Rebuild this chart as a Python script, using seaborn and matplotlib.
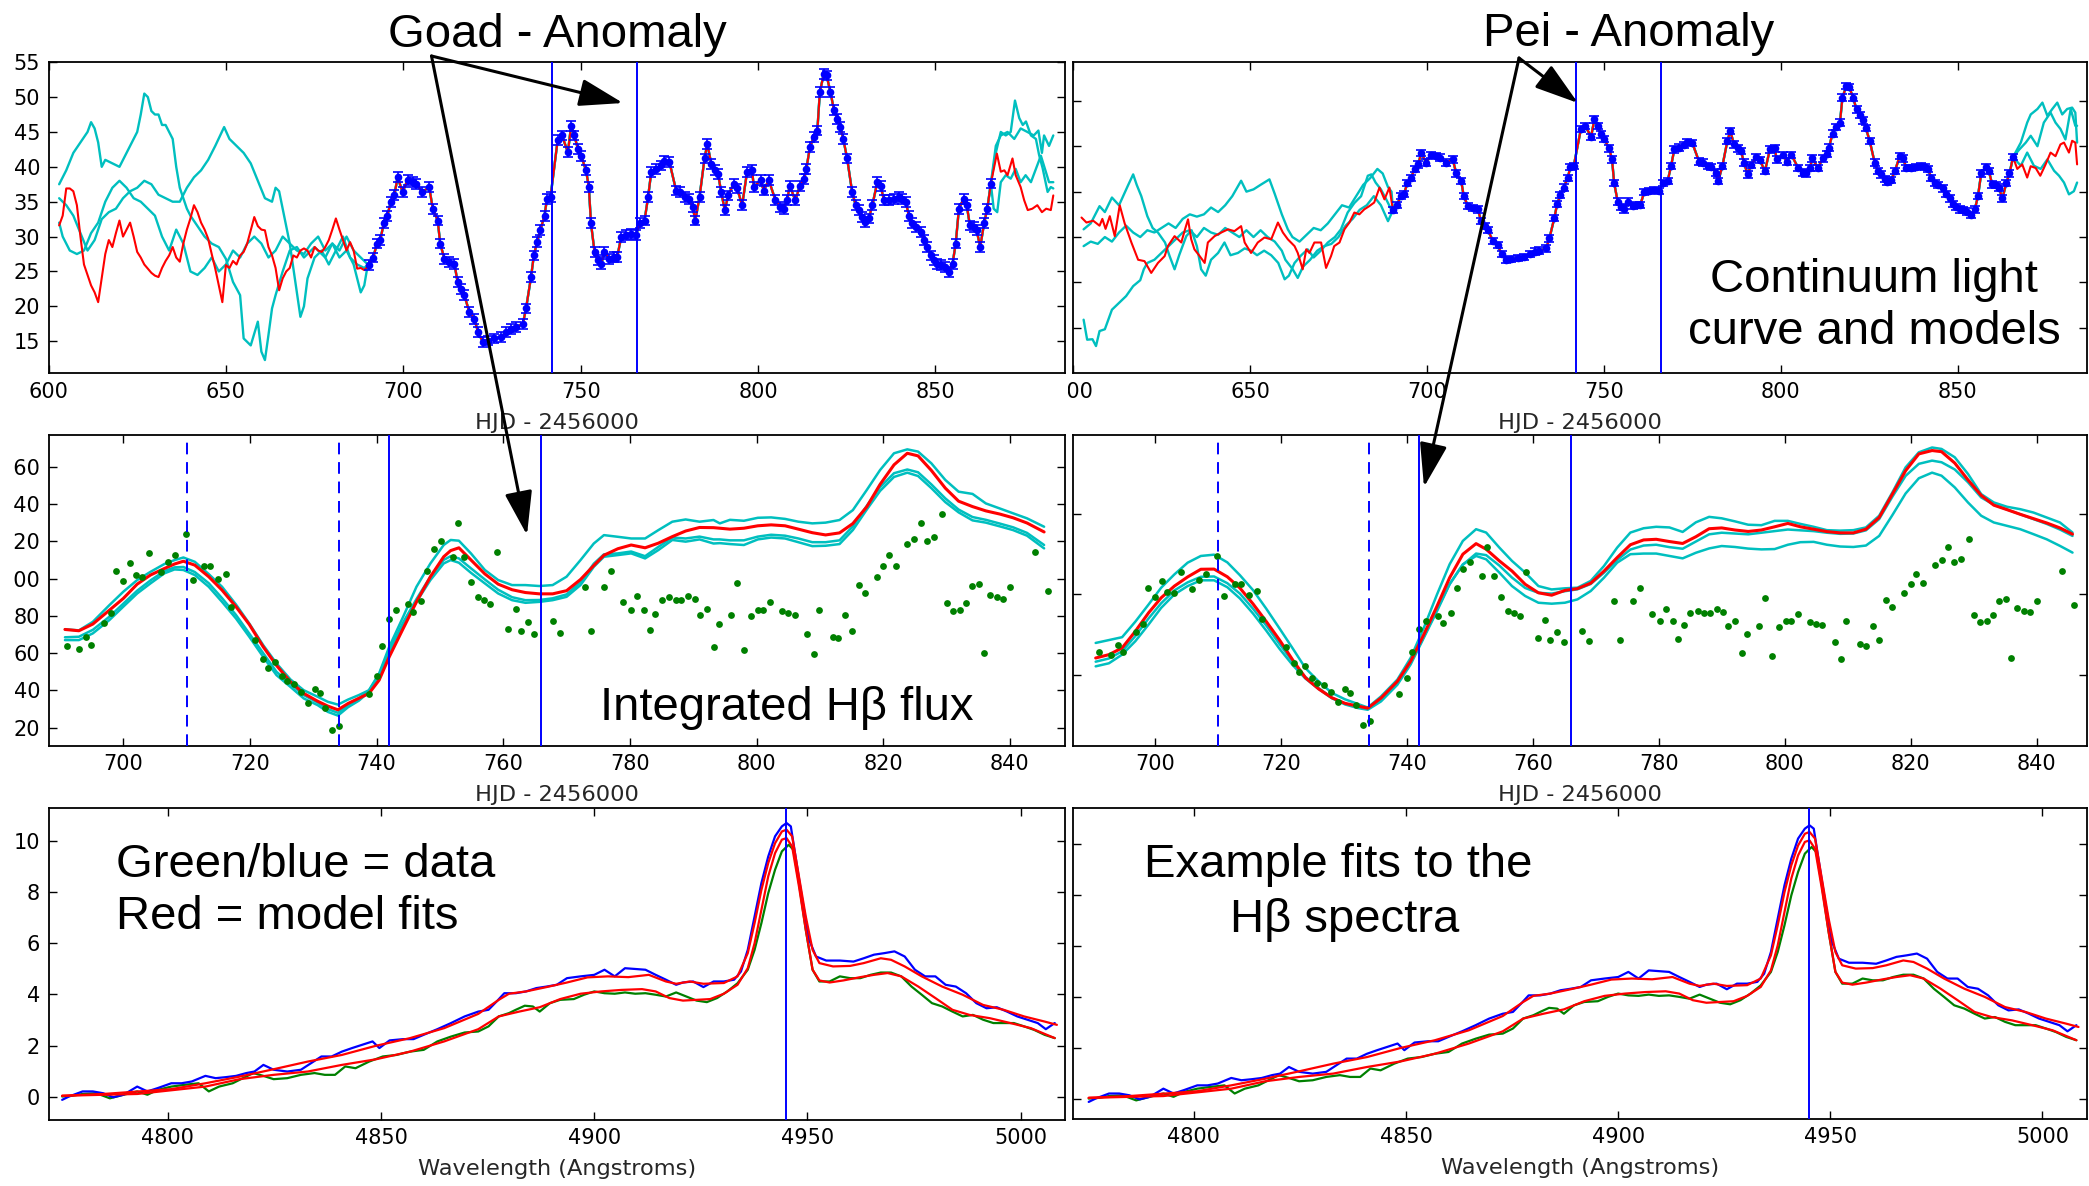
import numpy as np
import matplotlib
matplotlib.use("Agg")
import matplotlib.pyplot as plt
import seaborn as sns
from matplotlib.patches import FancyArrowPatch, ArrowStyle
from matplotlib.transforms import Bbox, TransformedBbox

W, H = 2089, 1186

# ---------------- continuum light curve (blue points) ----------------
LC_DAY = [690.4, 691.5, 692.6, 693.5, 694.5, 695.5, 696.5, 697.5, 698.4, 699.8,
          701.2, 702.6, 703.6, 705.4, 707.3, 708.3, 709.7, 710.4, 711.6, 713.0,
          714.4, 715.3, 716.3, 717.2, 718.6, 720.0, 721.1, 722.4, 723.8, 725.7,
          727.5, 729.0, 730.4, 731.8, 733.7, 734.6, 736.0, 736.8, 737.7, 738.6,
          739.8, 740.5, 741.5, 743.5, 744.7, 746.4, 747.3, 748.2, 749.2, 750.1,
          751.5, 752.3, 752.9, 753.9, 754.8, 755.8, 756.7, 758.1, 759.3, 760.3,
          761.4, 762.8, 764.2, 765.6, 766.6, 768.0, 769.0, 769.9, 771.3, 772.7,
          773.6, 775.0, 776.9, 777.9, 779.3, 780.4, 781.6, 782.3, 783.5, 784.9,
          785.7, 786.8, 787.8, 788.7, 789.6, 790.6, 791.6, 793.1, 794.1, 795.5,
          796.9, 798.3, 798.8, 800.7, 801.6, 803.0, 804.9, 806.3, 807.2, 808.2,
          808.9, 810.5, 811.8, 813.0, 813.6, 814.6, 815.7, 816.7, 817.4, 818.5,
          819.3, 820.4, 821.4, 822.3, 823.2, 824.0, 825.1, 826.5, 827.5, 828.4,
          829.4, 830.1, 831.2, 832.2, 833.6, 834.5, 835.5, 836.9, 838.3, 839.7,
          840.6, 841.6, 842.5, 843.5, 844.4, 845.8, 846.8, 847.7, 848.6, 849.6,
          850.5, 851.5, 852.6, 853.8, 854.8, 855.7, 856.6, 857.9, 858.8, 859.7,
          860.9, 861.6, 862.6, 863.7, 864.6, 865.6]
LC_FLUX = [25.9, 27.0, 29.0, 29.5, 31.9, 33.0, 35.0, 36.0, 38.5, 36.4,
           38.1, 37.8, 37.5, 36.4, 37.1, 34.0, 32.3, 29.0, 26.8, 26.4,
           26.1, 23.5, 22.5, 21.6, 19.2, 18.2, 16.3, 14.9, 15.1, 15.4,
           15.6, 16.3, 16.8, 17.0, 17.5, 19.7, 24.2, 27.3, 29.2, 30.9,
           33.0, 35.4, 35.7, 43.8, 44.5, 42.1, 45.9, 44.5, 42.6, 41.6,
           39.5, 37.1, 31.9, 27.8, 26.6, 26.1, 27.8, 26.8, 27.1, 27.1,
           29.9, 30.2, 30.4, 30.2, 31.9, 32.3, 35.7, 39.3, 39.7, 40.2,
           40.9, 40.7, 36.6, 36.4, 35.7, 35.4, 34.2, 32.3, 35.7, 41.2,
           43.3, 40.4, 39.5, 39.0, 36.4, 33.8, 35.9, 37.6, 36.9, 34.5,
           39.3, 39.5, 37.1, 38.1, 36.6, 38.1, 35.2, 34.2, 34.0, 35.2,
           37.3, 35.2, 37.3, 38.3, 39.7, 42.8, 44.3, 45.2, 50.7, 53.3,
           53.1, 50.7, 48.1, 46.9, 45.7, 44.0, 41.2, 36.4, 34.5, 33.8,
           32.8, 32.1, 32.6, 34.5, 37.8, 37.3, 35.2, 35.2, 35.4, 35.7,
           35.4, 35.0, 33.0, 31.9, 31.4, 30.7, 29.5, 28.5, 27.3, 26.6,
           26.1, 25.9, 25.6, 24.9, 26.1, 29.0, 34.0, 35.4, 34.5, 31.6,
           31.4, 30.9, 28.5, 31.9, 34.0, 37.6]
LC_ERR = 0.7

# ---- Goad model light curves: segments before / after the data window ----
GOAD_RED_PRE_DAY = list(range(603, 690))
GOAD_RED_PRE = [31.6, 33.0, 36.9, 36.9, 36.5, 34.5, 30.0, 26.0, 24.5, 23.0,
                22.0, 20.6, 24.0, 27.5, 29.5, 28.5, 30.5, 32.3, 30.0, 31.0,
                32.0, 30.0, 27.8, 27.0, 26.0, 25.4, 24.8, 24.4, 24.2, 25.5,
                26.5, 27.3, 28.5, 27.0, 26.4, 29.0, 31.0, 32.6, 34.5, 33.5,
                32.0, 31.0, 29.7, 27.5, 25.4, 23.0, 20.6, 25.9, 25.5, 26.5,
                26.0, 27.3, 27.8, 29.0, 30.9, 32.8, 31.5, 31.0, 30.9, 28.5,
                27.3, 25.5, 22.3, 24.0, 25.0, 25.5, 27.3, 27.0, 28.0, 28.3,
                28.0, 27.0, 28.5, 28.0, 27.8, 28.5, 29.5, 31.0, 32.6, 31.0,
                29.5, 28.0, 29.2, 28.0, 25.4, 25.5, 25.2]
GOAD_CYAN_A_DAY = [603, 605, 607, 609, 611, 612, 613, 614, 615, 616, 618, 620, 621, 623, 625,
                   626, 627, 628, 629, 630, 631, 632, 633, 634, 635, 636, 637, 638, 639, 640,
                   642, 644, 646, 648, 650, 652, 654, 655, 657, 659, 660, 661, 662, 663, 664,
                   666, 668, 670, 672, 675, 678, 680, 682, 684, 686, 688, 690]
GOAD_CYAN_A = [37.5, 39.5, 42.0, 43.5, 45.0, 46.4, 45.5, 43.5, 40.0, 41.0, 40.5, 40.0, 41.0, 43.0, 45.0,
               47.5, 50.5, 50.0, 48.0, 47.5, 47.5, 46.0, 46.0, 45.0, 44.0, 40.0, 37.0, 35.5, 34.0, 33.0,
               31.5, 30.0, 29.0, 28.5, 26.8, 23.5, 21.6, 15.4, 14.4, 17.8, 13.5, 12.3, 15.9, 19.7, 21.6,
               25.0, 28.0, 28.5, 27.0, 28.5, 27.0, 29.0, 28.0, 30.0, 28.0, 27.0, 26.0]
GOAD_CYAN_B_DAY = [603, 605, 607, 609, 611, 613, 615, 617, 619, 621, 623, 625, 627, 629, 631, 633,
                   635, 637, 639, 641, 643, 645, 647, 649.5, 651, 653, 655, 657, 659, 661, 663,
                   664, 665, 666, 668, 670, 671, 672, 673, 675, 677, 679, 681, 683, 685, 687, 689, 690]
GOAD_CYAN_B = [35.5, 34.5, 33.0, 30.5, 28.0, 29.5, 32.5, 33.5, 34.0, 35.5, 36.5, 37.0, 38.0, 37.5, 36.0, 35.5,
               35.0, 35.0, 37.0, 38.5, 39.5, 41.0, 43.0, 45.7, 44.0, 43.0, 42.0, 40.5, 38.0, 35.5, 35.0,
               37.0, 36.5, 34.0, 29.0, 22.0, 18.5, 20.0, 24.0, 27.0, 28.0, 26.0, 28.0, 30.0, 27.0, 26.0, 25.5, 26.0]
GOAD_CYAN_C_DAY = [603, 604, 606, 608, 610, 612, 614, 616, 618, 620, 622, 624, 626, 628, 630, 632,
                   634, 636, 638, 640, 642, 644, 646, 648, 650, 652, 654, 656, 658, 660, 662, 664,
                   666, 668, 670, 672, 674, 676, 678, 680, 682, 684, 686, 688, 689, 690]
GOAD_CYAN_C = [32.0, 30.0, 28.0, 27.5, 28.0, 30.5, 32.0, 35.0, 37.0, 38.0, 37.0, 35.5, 35.0, 34.0, 33.0, 30.0,
               28.0, 31.0, 29.0, 25.0, 24.5, 25.5, 27.0, 25.0, 26.0, 28.0, 27.0, 29.0, 30.0, 29.0, 27.0, 28.0,
               30.0, 29.0, 28.0, 27.5, 29.0, 30.0, 28.0, 29.0, 27.0, 28.0, 26.0, 22.0, 23.0, 26.0]
GOAD_RED_POST_DAY = [867.3, 868.4, 869.4, 870.3, 871.7, 872.6, 874.0, 875.0, 876.0, 877.3, 878.7, 880.0, 881.2, 882.5, 883.2]
GOAD_RED_POST = [41.9, 39.3, 39.5, 38.8, 41.2, 38.8, 37.1, 35.2, 33.8, 34.0, 34.5, 33.5, 34.0, 33.8, 35.9]
GOAD_CYAN_A_POST_DAY = [867.0, 868.4, 869.8, 871.2, 872.4, 873.6, 874.6, 875.5, 876.9, 878.3, 879.2, 880.2, 881.6, 882.5, 883.2]
GOAD_CYAN_A_POST = [42.0, 45.0, 44.5, 45.0, 49.5, 47.0, 46.0, 46.5, 44.5, 44.0, 41.7, 39.8, 36.4, 37.1, 36.9]
GOAD_CYAN_B_POST_DAY = [867.0, 868.4, 870.3, 872.2, 874.0, 875.9, 877.7, 879.0, 880.0, 880.6, 882.0, 883.2]
GOAD_CYAN_B_POST = [43.0, 44.5, 45.0, 44.0, 45.5, 45.0, 44.5, 45.2, 42.0, 44.5, 43.0, 44.5]
GOAD_CYAN_C_POST_DAY = [866.4, 867.4, 868.4, 869.8, 871.2, 872.6, 874.0, 875.4, 876.9, 878.3, 879.7, 881.1, 882.0, 883.2]
GOAD_CYAN_C_POST = [34.0, 33.5, 37.8, 38.8, 38.3, 39.7, 37.8, 38.8, 37.8, 39.7, 41.6, 39.3, 37.8, 37.8]

# ---- Pei model light curves ----
PEI_RED_PRE_DAY = [602.4, 603.8, 605.7, 607.5, 608.3, 609.2, 610.4, 611.8, 613.2, 614.6, 616.5, 618.4,
                   620.2, 622.1, 624.0, 625.9, 626.8, 628.7, 630.6, 631.5, 632.5, 633.4, 634.3, 635.8,
                   637.2, 638.1, 640.0, 641.9, 643.8, 645.6, 647.5, 648.5, 650.3, 652.2, 654.1, 656.0,
                   657.9, 659.3, 660.7, 662.6, 663.5, 664.9, 665.9, 666.8, 668.2, 670.1, 671.5, 672.9,
                   673.8, 675.3, 676.7, 678.1, 679.5, 680.9, 682.3, 683.7, 685.1, 686.6, 688.0, 689.4]
PEI_RED_PRE = [24.3, 23.2, 23.6, 22.5, 24.0, 21.8, 24.6, 20.2, 27.0, 23.0, 18.8, 15.0,
               14.7, 12.1, 14.3, 15.8, 18.0, 20.2, 18.8, 21.3, 23.9, 19.5, 17.3, 15.8,
               14.3, 18.8, 20.2, 21.0, 21.7, 21.3, 22.4, 18.8, 16.5, 18.8, 19.9, 19.5,
               23.2, 21.0, 19.5, 18.0, 16.5, 12.9, 17.3, 16.5, 18.8, 18.8, 13.2, 15.8,
               18.0, 18.8, 21.7, 23.2, 25.4, 25.0, 26.1, 26.8, 27.6, 30.9, 28.3, 30.9]
PEI_CYAN_A_DAY = [603, 604, 605.5, 606.5, 607.5, 609, 611, 613, 615, 617, 619, 620, 621, 623, 625,
                  627, 629, 631, 633, 635, 637, 639, 641, 643, 645, 647, 649, 651, 653, 655,
                  657, 659, 660, 662, 663.5, 665, 667, 669, 671, 673, 675, 677, 679, 681, 683,
                  685, 687, 689]
PEI_CYAN_A = [1.8, -2.6, -2.5, -4.0, -0.7, -0.3, 4.0, 5.5, 7.0, 9.2, 10.5, 12.9, 14.3, 15.0, 16.5,
              18.0, 19.5, 21.0, 21.5, 20.0, 22.0, 21.0, 20.5, 22.0, 21.0, 20.0, 21.5, 20.0, 21.5, 20.0,
              19.0, 17.0, 15.0, 13.0, 11.0, 13.5, 15.0, 17.0, 18.0, 18.5, 20.0, 22.5, 24.0, 26.0, 27.0,
              29.0, 27.0, 23.5]
PEI_CYAN_B_DAY = [603, 605, 607.5, 609, 611, 613, 615.5, 617, 618, 619.3, 621, 622.5, 624, 626, 627.3,
                  628.7, 630, 632, 633.5, 635, 636.2, 637.5, 639, 641, 642.8, 644.5, 646.6, 648.5, 650.3,
                  652, 654, 656, 658, 659.8, 661, 662.6, 664.5, 666.3, 668, 670, 672, 674, 675.7, 677.6,
                  679.5, 681.4, 683.3, 684.3, 685.5, 687, 688.5, 689.9]
PEI_CYAN_B = [21.7, 23.0, 26.8, 25.5, 28.7, 27.0, 31.3, 33.8, 31.5, 29.0, 24.6, 22.0, 21.0, 18.8, 15.8,
              12.9, 16.0, 20.2, 21.5, 18.0, 12.9, 11.5, 15.0, 16.5, 18.8, 16.0, 16.5, 17.5, 17.0,
              16.0, 17.0, 16.0, 14.3, 10.7, 11.5, 14.3, 16.0, 17.3, 15.5, 17.0, 18.8, 20.0, 21.7, 25.4,
              27.5, 29.0, 33.5, 33.8, 32.0, 30.5, 28.3, 26.1]
PEI_CYAN_C_DAY = [603, 605, 607, 609, 611, 613, 615, 617, 619, 621, 623, 625, 627, 629, 631, 633, 635,
                  637, 639, 641, 643, 645, 647.5, 649, 651, 653, 655.5, 657, 659, 660.7, 662, 664, 666,
                  668, 670, 672, 674, 676, 678, 680, 682, 684, 686, 687.5, 689, 690]
PEI_CYAN_C = [18.0, 19.0, 18.5, 20.0, 19.0, 21.0, 22.5, 21.0, 20.0, 21.5, 21.0, 22.0, 23.0, 22.0, 24.0, 25.0, 24.5,
              25.0, 26.5, 25.5, 27.0, 29.0, 32.4, 30.0, 30.5, 31.5, 32.7, 29.5, 25.0, 21.7, 20.0, 19.0, 20.5,
              22.0, 21.5, 23.0, 25.0, 27.0, 26.5, 29.0, 31.5, 33.0, 35.0, 34.0, 31.0, 30.0]
PEI_RED_POST_DAY = [866.8, 868.2, 869.6, 870.6, 872.0, 873.3, 874.8, 876.2, 877.6, 879.0, 880.0, 881.4, 882.3, 883.2, 883.7]
PEI_RED_POST = [35.0, 36.0, 33.1, 35.6, 35.2, 33.5, 36.0, 38.6, 37.8, 40.4, 40.8, 38.6, 41.2, 40.8, 36.0]
PEI_CYAN_A_POST_DAY = [867.8, 869.6, 870.6, 872.5, 873.9, 875.3, 876.7, 878.1, 879.5, 880.9, 882.3, 883.2, 883.7]
PEI_CYAN_A_POST = [40.8, 45.2, 47.0, 48.2, 49.6, 46.7, 48.2, 49.6, 47.0, 48.2, 48.5, 47.4, 40.8]
PEI_CYAN_B_POST_DAY = [867.4, 869.2, 870.6, 872.5, 874.3, 876.2, 877.6, 879.0, 880.4, 881.9, 883.2, 883.7]
PEI_CYAN_B_POST = [39.3, 40.8, 42.3, 40.0, 45.2, 47.4, 45.2, 43.8, 41.5, 48.2, 44.5, 44.5]
PEI_CYAN_C_POST_DAY = [867.8, 869.6, 871.5, 873.4, 875.3, 877.2, 878.6, 880.0, 881.4, 882.8, 883.7]
PEI_CYAN_C_POST = [35.7, 38.6, 35.7, 35.0, 37.1, 34.6, 33.5, 32.0, 29.4, 30.1, 32.0]

# ---------------- integrated H-beta flux (green points) ----------------
HB_DAY = [691.1, 693.0, 694.1, 694.9, 697.0, 698.1, 698.9, 700.0, 701.1, 702.0,
          703.0, 704.1, 705.9, 707.0, 708.1, 709.9, 711.0, 712.7, 713.7, 714.9,
          716.2, 717.0, 720.8, 722.1, 722.9, 723.9, 725.0, 725.8, 726.9, 728.0,
          729.1, 730.2, 731.0, 731.9, 733.0, 734.1, 738.8, 740.1, 740.9, 741.9,
          743.1, 745.0, 745.8, 747.0, 748.0, 749.0, 750.1, 752.0, 752.8, 753.8,
          754.9, 756.0, 757.0, 757.9, 759.0, 760.8, 762.0, 762.8, 763.9, 764.9,
          767.8, 768.9, 772.9, 773.9, 775.9, 777.0, 778.9, 780.2, 781.1, 782.2,
          783.1, 784.0, 785.0, 786.2, 787.2, 788.1, 789.2, 790.2, 791.0, 792.1,
          793.2, 794.0, 796.0, 796.9, 798.0, 799.1, 800.2, 801.0, 802.1, 804.0,
          805.0, 806.0, 808.0, 809.0, 809.8, 812.0, 812.9, 814.0, 815.0, 816.1,
          817.1, 819.0, 820.0, 820.9, 822.0, 823.8, 824.9, 825.9, 826.9, 828.0,
          829.2, 830.1, 831.0, 832.1, 833.0, 834.0, 835.1, 835.9, 836.9, 838.0,
          838.9, 840.0, 844.0, 846.0]
HB_FLUX = [63.8, 62.0, 68.4, 64.3, 76.3, 81.6, 104.2, 98.5, 108.5, 101.7,
           101.0, 113.8, 103.5, 108.7, 112.9, 123.7, 99.2, 106.7, 106.7, 99.5,
           102.4, 84.9, 67.3, 57.1, 51.8, 55.3, 47.8, 45.0, 43.7, 39.2,
           33.0, 41.0, 38.4, 30.8, 18.7, 20.8, 38.0, 47.6, 63.8, 78.1,
           83.1, 86.3, 82.2, 88.1, 104.2, 115.8, 120.3, 111.3, 129.6, 111.3,
           98.3, 89.9, 88.4, 86.3, 114.2, 72.9, 83.8, 71.7, 76.6, 70.0,
           77.4, 71.0, 95.6, 71.8, 95.6, 104.2, 87.5, 83.1, 90.6, 83.4,
           72.3, 80.9, 88.4, 89.9, 88.4, 88.4, 90.6, 88.9, 80.4, 83.6,
           63.4, 75.5, 80.4, 97.7, 61.6, 79.8, 83.4, 83.4, 87.5, 82.5,
           81.3, 80.6, 70.2, 59.5, 83.3, 68.8, 67.9, 80.4, 71.8, 96.5,
           92.0, 100.6, 106.7, 112.8, 107.0, 118.5, 121.2, 129.6, 120.3, 122.1,
           134.6, 87.0, 82.5, 83.4, 87.0, 96.1, 97.0, 60.2, 91.3, 89.9,
           88.8, 95.6, 114.4, 93.3]

# Goad H-beta models
HB_GOAD_DAY = [690.8, 693.0, 695.2, 697.8, 700.0, 702.2, 704.3, 706.5, 708.1, 709.5,
               711.3, 713.5, 715.6, 717.8, 719.9, 722.1, 724.2, 726.4, 728.5, 730.7,
               732.3, 733.9, 735.5, 737.2, 738.8, 740.4, 742.0, 744.2, 746.3, 748.5,
               750.6, 751.7, 753.0, 754.9, 757.1, 759.2, 761.4, 763.5, 765.7, 767.8,
               770.0, 772.2, 774.3, 775.9, 778.1, 780.2, 782.4, 784.5, 786.7, 788.8,
               791.0, 793.2, 794.2, 795.8, 798.0, 800.2, 802.3, 804.5, 806.6, 808.8,
               810.9, 813.1, 815.2, 817.4, 819.5, 821.7, 823.8, 825.5, 827.6, 829.8,
               831.9, 834.1, 836.2, 838.4, 840.5, 842.7, 845.4]
HB_GOAD_RED = [72.7, 72.0, 75.6, 83.0, 89.3, 97.0, 101.9, 105.4, 107.8, 109.3,
               107.2, 101.0, 93.8, 84.9, 75.4, 63.4, 53.4, 44.6, 38.4, 34.2,
               31.6, 29.6, 33.0, 35.8, 38.4, 45.5, 58.0, 73.2, 87.5, 101.0,
               111.7, 115.0, 116.5, 110.0, 102.5, 97.0, 94.0, 92.5, 91.8, 91.8,
               93.5, 99.5, 107.0, 112.5, 116.0, 118.0, 116.5, 119.0, 122.5, 125.5,
               127.4, 127.3, 127.0, 126.5, 127.0, 128.3, 128.8, 128.3, 126.5, 124.6,
               123.4, 124.5, 129.5, 138.5, 150.5, 161.0, 167.2, 165.8, 158.0, 148.5,
               141.5, 138.6, 136.3, 134.6, 132.6, 129.8, 125.0]
HB_GOAD_CYAN_A = [72.8, 72.2, 76.8, 85.7, 92.9, 99.2, 103.6, 107.8, 109.9, 111.3,
                  109.0, 102.4, 95.6, 86.1, 75.9, 64.3, 54.5, 45.9, 40.1, 36.6,
                  33.9, 32.4, 35.1, 37.5, 40.1, 49.1, 63.4, 79.5, 95.6, 108.1,
                  118.0, 120.7, 120.3, 113.5, 104.6, 99.2, 96.5, 96.5, 96.0, 96.5,
                  101.0, 109.9, 118.8, 123.3, 122.4, 121.5, 121.5, 126.0, 130.5, 131.7,
                  130.5, 131.4, 129.6, 131.5, 131.0, 132.6, 132.8, 132.0, 130.5, 129.6,
                  130.0, 131.4, 136.7, 147.5, 158.2, 167.2, 169.3, 168.1, 161.8, 152.9,
                  146.6, 145.4, 140.3, 137.6, 135.0, 132.3, 127.8]
HB_GOAD_CYAN_B = [67.0, 67.0, 70.6, 77.7, 84.9, 92.0, 97.4, 102.8, 104.9, 104.6,
                  101.9, 95.6, 87.5, 78.6, 68.8, 58.0, 48.2, 41.9, 35.7, 32.1,
                  28.5, 26.5, 31.0, 34.5, 39.2, 47.3, 59.8, 75.0, 87.5, 99.2,
                  108.1, 109.9, 108.5, 103.1, 97.4, 92.0, 88.4, 87.0, 87.5, 88.4,
                  90.2, 96.5, 106.3, 111.7, 112.6, 113.5, 110.8, 115.3, 120.7, 119.8,
                  121.0, 118.8, 119.0, 118.5, 118.0, 121.0, 122.0, 121.5, 119.5, 117.4,
                  117.6, 118.5, 126.0, 137.0, 147.0, 154.5, 156.8, 155.0, 148.5, 141.0,
                  135.5, 131.2, 130.0, 128.0, 126.0, 123.0, 116.2]
HB_GOAD_CYAN_C = [68.5, 68.8, 72.5, 79.5, 86.5, 93.5, 99.0, 104.0, 106.0, 106.2,
                  103.5, 97.5, 89.5, 80.5, 70.5, 60.0, 50.0, 43.5, 37.5, 33.5,
                  30.0, 28.0, 32.0, 35.5, 40.0, 48.5, 61.5, 76.5, 89.0, 101.0,
                  110.0, 112.0, 110.8, 105.5, 99.5, 94.0, 90.0, 88.4, 88.5, 89.4,
                  91.5, 98.0, 108.0, 113.0, 113.5, 114.5, 112.0, 117.0, 122.0, 121.5,
                  122.5, 121.0, 121.0, 120.5, 120.5, 122.5, 123.5, 123.0, 121.5, 119.5,
                  119.5, 120.5, 128.0, 139.0, 149.0, 156.5, 158.5, 157.0, 150.5, 143.0,
                  137.0, 133.0, 131.5, 129.5, 127.5, 124.5, 118.0]

# Pei H-beta models
HB_PEI_DAY = [690.6, 692.7, 694.8, 696.9, 699.0, 701.0, 703.1, 705.2, 707.3, 709.4,
              711.5, 713.5, 715.6, 717.7, 719.8, 721.9, 723.9, 726.0, 728.1, 730.2,
              732.3, 733.8, 735.9, 738.5, 740.6, 742.7, 744.8, 746.8, 748.9, 751.0,
              752.6, 754.7, 756.7, 758.8, 760.9, 763.0, 765.1, 767.1, 769.2, 771.3,
              773.4, 775.5, 777.6, 779.6, 781.7, 783.8, 785.9, 788.0, 790.0, 792.1,
              794.2, 796.3, 798.4, 800.5, 802.5, 804.6, 806.7, 808.8, 810.9, 812.9,
              815.0, 817.1, 819.2, 821.3, 823.4, 824.9, 827.0, 829.1, 831.2, 833.2,
              835.3, 837.4, 839.5, 841.6, 843.7, 845.7]
HB_PEI_RED = [60.3, 62.4, 66.6, 77.0, 88.5, 97.9, 105.2, 110.9, 115.7, 115.8,
              111.0, 104.0, 94.0, 83.0, 71.5, 59.0, 48.0, 41.0, 35.5, 32.0,
              30.2, 29.0, 35.3, 45.7, 58.2, 74.9, 92.7, 110.4, 125.1, 131.7,
              128.2, 120.9, 114.6, 106.3, 101.0, 99.5, 102.5, 103.6, 107.0, 114.5,
              123.0, 131.0, 134.0, 134.4, 133.0, 131.8, 136.0, 141.0, 141.5, 140.2,
              139.3, 140.2, 142.2, 144.3, 142.2, 140.7, 139.2, 138.4, 138.4, 140.7,
              148.0, 162.6, 177.2, 187.7, 189.8, 189.1, 182.0, 171.5, 161.8, 155.7,
              152.9, 150.0, 147.3, 144.6, 141.5, 137.6]
HB_PEI_CYAN_A = [69.7, 71.5, 73.3, 83.0, 93.7, 104.2, 112.5, 119.8, 124.0, 124.8,
                 120.0, 112.0, 102.6, 91.0, 78.7, 66.2, 54.0, 45.7, 38.5, 34.5,
                 31.5, 29.4, 36.3, 46.8, 60.3, 79.1, 100.0, 118.8, 133.4, 140.7,
                 138.6, 129.2, 120.9, 113.6, 105.2, 103.1, 103.8, 104.2, 108.4, 117.7,
                 129.2, 138.6, 141.3, 142.2, 141.8, 139.0, 145.0, 148.4, 147.5, 145.6,
                 143.5, 143.2, 145.9, 145.9, 144.0, 142.2, 140.1, 139.8, 140.1, 141.8,
                 149.1, 163.7, 179.3, 188.7, 191.7, 190.8, 185.6, 175.2, 162.6, 157.4,
                 154.7, 153.2, 151.1, 148.0, 144.9, 138.6]
HB_PEI_CYAN_B = [55.1, 57.0, 62.4, 70.8, 81.2, 91.6, 100.0, 105.2, 108.8, 108.8,
                 104.5, 97.5, 88.0, 77.3, 66.0, 55.8, 47.5, 41.0, 35.2, 31.3,
                 29.0, 28.0, 33.2, 43.6, 56.2, 72.9, 89.6, 106.3, 118.8, 124.0,
                 121.9, 113.6, 105.2, 99.0, 94.8, 94.2, 94.8, 96.9, 102.1, 110.4,
                 119.8, 125.1, 125.5, 125.5, 124.0, 122.5, 126.0, 128.7, 130.2, 129.6,
                 128.6, 128.1, 128.3, 131.0, 132.6, 132.8, 131.0, 129.9, 129.6, 130.5,
                 136.5, 149.5, 163.0, 172.5, 176.0, 174.1, 166.8, 157.4, 149.1, 144.9,
                 142.8, 140.7, 137.6, 134.4, 130.3, 126.1]
HB_PEI_CYAN_C = [58.0, 60.0, 64.5, 74.0, 85.0, 94.5, 102.5, 107.5, 111.0, 111.2,
                 107.0, 100.5, 91.0, 80.5, 69.0, 58.0, 48.5, 41.5, 35.5, 31.8,
                 29.8, 28.5, 34.0, 44.5, 57.0, 73.5, 90.5, 106.5, 118.5, 125.5,
                 124.5, 118.0, 110.5, 104.0, 101.0, 100.5, 102.0, 103.2, 106.5, 113.5,
                 121.5, 128.0, 130.5, 131.0, 129.5, 128.5, 133.0, 137.5, 138.5, 138.0,
                 137.5, 138.5, 139.5, 140.5, 140.0, 139.5, 138.5, 137.8, 138.0, 140.0,
                 147.0, 161.0, 174.0, 181.5, 183.5, 182.5, 178.0, 170.0, 160.5, 156.0,
                 153.0, 150.0, 147.0, 144.0, 140.5, 136.5]

# ---------------- H-beta spectra ----------------
SPEC_BLUE_WL = [4775.2, 4776.8, 4780.0, 4782.4, 4784.8, 4787.2, 4789.6, 4792.8, 4795.2, 4797.6,
                4800.8, 4803.2, 4805.6, 4808.8, 4811.2, 4813.6, 4816.0, 4818.4, 4820.3, 4822.4,
                4824.8, 4828.0, 4831.2, 4833.6, 4836.0, 4838.4, 4840.8, 4843.2, 4845.6, 4848.0,
                4849.6, 4852.0, 4855.2, 4857.6, 4860.0, 4863.2, 4866.4, 4869.6, 4872.8, 4875.2,
                4877.3, 4878.9, 4881.6, 4884.0, 4886.4, 4888.8, 4891.2, 4893.6, 4896.8, 4900.0,
                4902.4, 4904.8, 4907.2, 4909.6, 4912.0, 4914.4, 4916.8, 4919.2, 4920.8, 4923.2,
                4925.6, 4928.0, 4930.4, 4932.8, 4934.4, 4936.0, 4937.6, 4939.2, 4940.8, 4942.4,
                4944.0, 4945.1, 4946.1, 4947.2, 4948.8, 4950.4, 4952.0, 4954.4, 4957.6, 4960.8,
                4963.2, 4965.6, 4968.0, 4970.4, 4972.8, 4975.2, 4977.6, 4980.0, 4982.4, 4984.8,
                4987.2, 4989.6, 4992.0, 4994.4, 4996.8, 4999.2, 5001.6, 5004.0, 5005.9, 5008.0]
SPEC_BLUE = [-0.13, 0.0, 0.2, 0.2, 0.13, -0.03, 0.07, 0.39, 0.2, 0.33,
             0.52, 0.52, 0.59, 0.81, 0.72, 0.76, 0.81, 0.92, 0.98, 1.24,
             1.05, 0.98, 1.05, 1.31, 1.57, 1.57, 1.76, 1.9, 2.03, 2.16,
             1.9, 2.2, 2.25, 2.25, 2.42, 2.64, 2.88, 3.14, 3.33, 3.4,
             3.76, 4.05, 4.05, 4.12, 4.25, 4.31, 4.38, 4.64, 4.71, 4.77,
             4.97, 4.71, 5.03, 5.0, 4.97, 4.77, 4.58, 4.38, 4.47, 4.51,
             4.29, 4.51, 4.51, 4.58, 4.9, 5.75, 7.06, 8.37, 9.41, 10.2,
             10.59, 10.72, 10.59, 9.41, 7.71, 6.14, 5.49, 5.33, 5.33, 5.29,
             5.42, 5.56, 5.62, 5.69, 5.49, 4.97, 4.71, 4.71, 4.38, 4.31,
             4.05, 3.66, 3.46, 3.5, 3.33, 3.14, 3.01, 2.88, 2.64, 2.88]
SPEC_GREEN_WL = [4775.2, 4777.6, 4780.0, 4783.2, 4786.4, 4789.6, 4792.8, 4795.2, 4797.6, 4800.8,
                 4804.0, 4807.2, 4809.6, 4812.0, 4815.2, 4817.6, 4820.0, 4822.4, 4824.8, 4828.0,
                 4831.2, 4834.4, 4836.8, 4839.2, 4841.6, 4844.0, 4847.2, 4850.4, 4853.6, 4856.8,
                 4860.0, 4863.2, 4866.4, 4869.6, 4872.8, 4875.2, 4877.6, 4880.0, 4881.6, 4883.7,
                 4885.6, 4887.2, 4889.6, 4892.0, 4895.2, 4897.6, 4900.0, 4902.4, 4904.8, 4907.2,
                 4909.6, 4912.0, 4914.4, 4916.8, 4919.2, 4921.6, 4924.0, 4926.4, 4928.8, 4931.2,
                 4933.6, 4936.0, 4937.6, 4939.2, 4940.8, 4942.4, 4944.0, 4945.6, 4946.7, 4948.0,
                 4949.6, 4951.2, 4952.8, 4955.2, 4957.6, 4960.0, 4962.4, 4964.8, 4967.2, 4969.6,
                 4972.0, 4974.4, 4976.8, 4979.2, 4981.6, 4984.0, 4986.4, 4988.8, 4991.2, 4993.6,
                 4996.0, 4998.4, 5000.8, 5003.2, 5005.6, 5008.0]
SPEC_GREEN = [0.0, 0.03, 0.1, 0.13, -0.07, 0.07, 0.2, 0.07, 0.26, 0.39,
              0.46, 0.52, 0.2, 0.39, 0.52, 0.72, 0.92, 0.81, 0.68, 0.72,
              0.85, 0.92, 0.85, 0.85, 1.18, 1.11, 1.37, 1.57, 1.63, 1.76,
              1.83, 2.16, 2.35, 2.51, 2.55, 2.75, 3.14, 3.27, 3.4, 3.56,
              3.53, 3.33, 3.66, 3.79, 3.82, 3.99, 4.12, 4.05, 4.03, 4.08,
              4.03, 4.05, 3.99, 3.92, 4.08, 3.92, 3.76, 3.7, 3.86, 4.12,
              4.44, 4.97, 5.75, 6.8, 7.97, 8.89, 9.61, 9.87, 9.67, 8.37,
              6.54, 4.97, 4.51, 4.51, 4.71, 4.64, 4.64, 4.77, 4.86, 4.86,
              4.71, 4.31, 3.99, 3.66, 3.53, 3.33, 3.14, 3.2, 3.01, 2.88,
              2.88, 2.88, 2.75, 2.61, 2.42, 2.29]
FIT_UPPER_WL = [4775.2, 4784.8, 4800.8, 4808.8, 4816.8, 4824.8, 4832.8, 4840.8, 4848.8, 4856.8,
                4864.8, 4872.8, 4877.6, 4880.0, 4884.0, 4888.8, 4893.6, 4898.4, 4903.2, 4908.0,
                4912.8, 4916.8, 4919.2, 4922.4, 4925.6, 4930.4, 4933.6, 4936.0, 4937.6, 4939.2,
                4940.8, 4942.4, 4944.0, 4945.1, 4946.4, 4948.0, 4949.6, 4951.2, 4952.8, 4956.0,
                4960.0, 4963.2, 4967.2, 4969.6, 4972.8, 4976.8, 4981.6, 4986.4, 4991.2, 4996.0,
                5000.8, 5005.6, 5008.5]
FIT_UPPER = [0.03, 0.1, 0.29, 0.52, 0.78, 1.07, 1.37, 1.63, 1.99, 2.29,
             2.68, 3.24, 3.79, 4.03, 4.12, 4.29, 4.47, 4.67, 4.71, 4.68,
             4.77, 4.51, 4.42, 4.51, 4.42, 4.45, 4.71, 5.62, 6.8, 8.1,
             9.15, 9.93, 10.39, 10.46, 10.2, 8.63, 7.06, 5.75, 5.23, 5.1,
             5.12, 5.23, 5.42, 5.36, 5.1, 4.71, 4.31, 3.99, 3.59, 3.4,
             3.14, 2.94, 2.81]
FIT_LOWER_WL = [4775.2, 4792.8, 4808.8, 4816.8, 4824.8, 4832.8, 4840.8, 4848.8, 4856.8, 4864.8,
                4872.8, 4877.6, 4882.4, 4887.2, 4892.0, 4896.8, 4901.6, 4906.4, 4911.2, 4914.4,
                4917.6, 4920.8, 4924.0, 4927.2, 4930.4, 4933.6, 4936.0, 4937.6, 4939.2, 4940.8,
                4942.4, 4944.0, 4945.1, 4946.4, 4948.0, 4949.6, 4951.2, 4952.8, 4955.2, 4958.4,
                4962.4, 4965.6, 4968.8, 4972.0, 4976.0, 4980.0, 4984.0, 4988.0, 4992.8, 4997.6,
                5002.4, 5008.0]
FIT_LOWER = [0.03, 0.1, 0.39, 0.68, 0.85, 0.98, 1.24, 1.46, 1.76, 2.16,
             2.64, 3.14, 3.33, 3.5, 3.82, 4.03, 4.12, 4.18, 4.21, 4.12,
             3.86, 3.76, 3.79, 3.82, 4.03, 4.38, 5.03, 6.01, 7.32, 8.63,
             9.54, 10.07, 10.13, 9.8, 8.24, 6.54, 4.97, 4.55, 4.47, 4.55,
             4.68, 4.77, 4.84, 4.71, 4.31, 3.86, 3.4, 3.2, 3.07, 2.88,
             2.68, 2.29]

ANOMALY_SOLID = [742, 766]
ANOMALY_DASHED = [710, 734]
LINE_CENTER = 4945

CYAN, RED, BLUE, GREEN = "#00bfbf", "#ff0000", "#0000ff", "#008000"

# ---------------- styling ----------------
sns.set_theme(style="ticks")
plt.rcParams.update({
    "axes.edgecolor": "black",
    "axes.linewidth": 1.3,
    "xtick.direction": "in",
    "ytick.direction": "in",
    "xtick.top": True,
    "ytick.right": True,
    "xtick.color": "black",
    "ytick.color": "black",
    "axes.facecolor": "white",
    "figure.facecolor": "white",
})
plt.rcParams["font.family"] = ["DejaVu Sans"]
ANN_FONT = ["Liberation Sans", "DejaVu Sans"]
XLABEL_SIZE = 16.2

fig = plt.figure(figsize=(W / 100, H / 100), dpi=100)


def px_axes(x0, y0, x1, y1):
    return fig.add_axes([x0 / W, 1 - y1 / H, (x1 - x0) / W, (y1 - y0) / H])


def style(ax):
    ax.tick_params(axis="both", which="major", direction="in", length=5.5, width=1.0,
                   top=True, right=True, labelsize=15, pad=6)
    for s in ax.spines.values():
        s.set_visible(True)
        s.set_linewidth(1.3)
        s.set_color("black")


def draw_line(ax, x, y, color, lw, z):
    sns.lineplot(x=np.asarray(x, float), y=np.asarray(y, float), ax=ax, color=color,
                 linewidth=lw, estimator=None, sort=False, zorder=z, legend=False)


def draw_lightcurve(ax, red_pre, cyan_pre, red_post, cyan_post, ylim, yticks):
    for (pdd, pvv), (qdd, qvv) in zip(cyan_pre, cyan_post):
        draw_line(ax, list(pdd) + LC_DAY + list(qdd), list(pvv) + LC_FLUX + list(qvv), CYAN, 1.7, 2)
    draw_line(ax, list(red_pre[0]) + LC_DAY + list(red_post[0]),
              list(red_pre[1]) + LC_FLUX + list(red_post[1]), RED, 1.5, 3)
    ax.errorbar(LC_DAY, LC_FLUX, yerr=LC_ERR, fmt="o", color=BLUE, ms=4.5, mec=BLUE,
                elinewidth=1.2, capsize=3.5, capthick=1.2, zorder=4)
    for xv in ANOMALY_SOLID:
        ax.axvline(xv, color=BLUE, lw=1.4, zorder=5)
    ax.set_xlim(600, 886.5)
    ax.set_xticks([600, 650, 700, 750, 800, 850])
    ax.set_ylim(*ylim)
    ax.set_yticks(yticks)
    ax.set_xlabel("HJD - 2456000", fontsize=XLABEL_SIZE, labelpad=8)
    ax.set_ylabel("")


def draw_hbeta(ax, days, red, cyans, xlim, ylim, yticks):
    for cy in cyans:
        draw_line(ax, days, cy, CYAN, 1.8, 2)
    draw_line(ax, days, red, RED, 2.2, 3)
    sns.scatterplot(x=HB_DAY, y=HB_FLUX, ax=ax, color=GREEN, s=24, linewidth=0, zorder=4, legend=False)
    for xv in ANOMALY_DASHED:
        ax.axvline(xv, color=BLUE, lw=1.4, dashes=(6, 4), zorder=5)
    for xv in ANOMALY_SOLID:
        ax.axvline(xv, color=BLUE, lw=1.4, zorder=5)
    ax.set_xlim(*xlim)
    ax.set_xticks([700, 720, 740, 760, 780, 800, 820, 840])
    ax.set_ylim(*ylim)
    ax.set_yticks(yticks)
    ax.set_xlabel("HJD - 2456000", fontsize=XLABEL_SIZE, labelpad=8)
    ax.set_ylabel("")


def draw_spectra(ax, xlim, ylim):
    draw_line(ax, SPEC_GREEN_WL, SPEC_GREEN, GREEN, 1.6, 2)
    draw_line(ax, SPEC_BLUE_WL, SPEC_BLUE, BLUE, 1.6, 2)
    draw_line(ax, FIT_UPPER_WL, FIT_UPPER, RED, 1.6, 3)
    draw_line(ax, FIT_LOWER_WL, FIT_LOWER, RED, 1.6, 3)
    ax.axvline(LINE_CENTER, color=BLUE, lw=1.4, zorder=5)
    ax.set_xlim(*xlim)
    ax.set_xticks([4800, 4850, 4900, 4950, 5000])
    ax.set_ylim(*ylim)
    ax.set_yticks([0, 2, 4, 6, 8, 10])
    ax.set_xlabel("Wavelength (Angstroms)", fontsize=XLABEL_SIZE, labelpad=8)
    ax.set_ylabel("")


# right column first (the left column is drawn over it)
axR1 = px_axes(1073, 62.2, 2087, 373.3)
axR2 = px_axes(1073, 435.0, 2087, 745.8)
axR3 = px_axes(1073, 808.0, 2087, 1119.0)
axL1 = px_axes(48.5, 62.2, 1065, 373.3)
axL2 = px_axes(48.5, 435.0, 1065, 745.8)
axL3 = px_axes(48.5, 808.0, 1065, 1120.0)
for a in (axR1, axR2, axR3, axL1, axL2, axL3):
    style(a)

draw_lightcurve(axL1, (GOAD_RED_PRE_DAY, GOAD_RED_PRE),
                [(GOAD_CYAN_A_DAY, GOAD_CYAN_A), (GOAD_CYAN_B_DAY, GOAD_CYAN_B), (GOAD_CYAN_C_DAY, GOAD_CYAN_C)],
                (GOAD_RED_POST_DAY, GOAD_RED_POST),
                [(GOAD_CYAN_A_POST_DAY, GOAD_CYAN_A_POST), (GOAD_CYAN_B_POST_DAY, GOAD_CYAN_B_POST),
                 (GOAD_CYAN_C_POST_DAY, GOAD_CYAN_C_POST)],
                (10.4, 55), [15, 20, 25, 30, 35, 40, 45, 50, 55])
draw_lightcurve(axR1, (PEI_RED_PRE_DAY, PEI_RED_PRE),
                [(PEI_CYAN_A_DAY, PEI_CYAN_A), (PEI_CYAN_B_DAY, PEI_CYAN_B), (PEI_CYAN_C_DAY, PEI_CYAN_C)],
                (PEI_RED_POST_DAY, PEI_RED_POST),
                [(PEI_CYAN_A_POST_DAY, PEI_CYAN_A_POST), (PEI_CYAN_B_POST_DAY, PEI_CYAN_B_POST),
                 (PEI_CYAN_C_POST_DAY, PEI_CYAN_C_POST)],
                (-10, 58.5), [0, 10, 20, 30, 40, 50])

draw_hbeta(axL2, HB_GOAD_DAY, HB_GOAD_RED, [HB_GOAD_CYAN_A, HB_GOAD_CYAN_B, HB_GOAD_CYAN_C],
           (688.2, 848.7), (10.3, 177), [20, 40, 60, 80, 100, 120, 140, 160])
draw_hbeta(axR2, HB_PEI_DAY, HB_PEI_RED, [HB_PEI_CYAN_A, HB_PEI_CYAN_B, HB_PEI_CYAN_C],
           (687.0, 848.0), (5.5, 199.5), [50, 100, 150])

draw_spectra(axL3, (4772, 5010.4), (-0.92, 11.31))
draw_spectra(axR3, (4771.5, 5010.5), (-0.8, 11.4))

for a in (axR1, axR2, axR3):
    a.tick_params(labelleft=False)

# ---------------- annotations ----------------
def ftext(x, y, s, ha="center"):
    fig.text(x / W, 1 - y / H, s, ha=ha, va="baseline", fontsize=34, family=ANN_FONT, color="black", zorder=12)


ftext(557, 46.7, "Goad - Anomaly")
ftext(1629, 45.5, "Pei - Anomaly")
ftext(1874, 292, "Continuum light")
ftext(1874, 344, "curve and models")
ftext(787, 720, "Integrated H\u03b2 flux")
ftext(116, 877, "Green/blue = data", ha="left")
ftext(116, 929, "Red = model fits", ha="left")
ftext(1338, 877, "Example fits to the")
ftext(1345, 932, "H\u03b2 spectra")


def arrow(x0, y0, x1, y1):
    a = FancyArrowPatch((x0 / W, 1 - y0 / H), (x1 / W, 1 - y1 / H), transform=fig.transFigure,
                        arrowstyle=ArrowStyle("-|>", head_length=2.7, head_width=0.85),
                        mutation_scale=10, lw=2.2, color="black", shrinkA=0, shrinkB=0, zorder=10)
    fig.add_artist(a)


arrow(431.5, 56, 623, 103)
arrow(431.5, 56, 527, 535)
arrow(1519, 58, 1578, 103)
arrow(1519, 58, 1424, 487)


# ---------------- clipping of labels hidden by the neighbouring panel ----------------
def clip_labels(ax, axis, x0px):
    box = TransformedBbox(Bbox([[x0px / W, 0], [1, 1]]), fig.transFigure)
    ticks = ax.xaxis.get_major_ticks() if axis == "x" else ax.yaxis.get_major_ticks()
    for t in ticks:
        t.label1.set_clip_box(box)
        t.label1.set_clip_on(True)


for a in (axL1, axL2, axL3):
    clip_labels(a, "y", 13.5)
clip_labels(axR1, "x", 1068)

fig.savefig("out.png", dpi=100)
